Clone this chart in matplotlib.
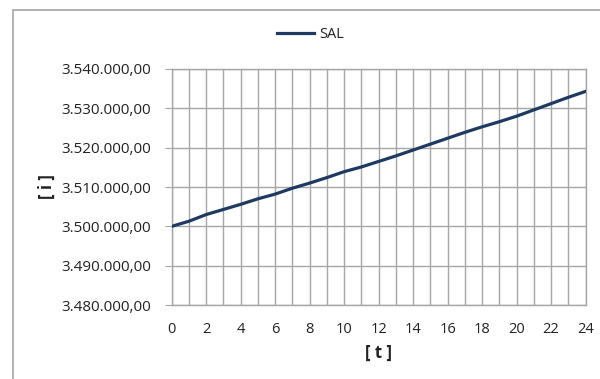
import matplotlib
matplotlib.use("Agg")
import matplotlib.pyplot as plt
from matplotlib.ticker import MultipleLocator, FuncFormatter
from matplotlib.patches import Rectangle

# hourly values
hours = list(range(25))
sal = [3500000, 3501300, 3503000, 3504300, 3505600, 3507000, 3508200,
       3509700, 3511000, 3512400, 3513900, 3515100, 3516500, 3517900,
       3519400, 3520900, 3522400, 3523900, 3525300, 3526600, 3528000,
       3529600, 3531200, 3532800, 3534300]

plt.rcParams['font.family'] = ['Open Sans', 'DejaVu Sans']
grid_col = '#a6a6a6'
text_col = '#222222'

fig = plt.figure(figsize=(6, 3.79), dpi=100)
ax = fig.add_axes([0.286, 0.195, 0.69, 0.623])

# outer chart frame (only left and top visible)
fig.patches.append(Rectangle((13 / 600, -0.1), 1.2, 1 - 10 / 379 + 0.1,
                             transform=fig.transFigure, fill=False,
                             edgecolor=grid_col, linewidth=1.2))

ax.plot(hours, sal, color='#1f3a60', linewidth=2.3, label='SAL', zorder=3)

ax.set_xlim(0, 24)
ax.set_ylim(3480000, 3540000)
ax.xaxis.set_major_locator(MultipleLocator(2))
ax.xaxis.set_minor_locator(MultipleLocator(1))
ax.yaxis.set_major_locator(MultipleLocator(10000))


def euro_fmt(v, pos):
    s = f"{v:,.2f}"
    return s.replace(',', 'X').replace('.', ',').replace('X', '.')


ax.yaxis.set_major_formatter(FuncFormatter(euro_fmt))

ax.grid(which='both', axis='x', color=grid_col, linewidth=1)
ax.grid(which='major', axis='y', color=grid_col, linewidth=1)
ax.set_axisbelow(True)
for sp in ax.spines.values():
    sp.set_color(grid_col)
    sp.set_linewidth(1)

ax.tick_params(axis='y', length=5, color=grid_col, labelsize=11,
               labelcolor=text_col, pad=9.5)
ax.tick_params(axis='x', which='both', length=0, labelsize=10.5,
               labelcolor=text_col, pad=12)

ax.set_xlabel('[ t ]', fontsize=12, fontweight='bold', color=text_col, labelpad=5)
ax.set_ylabel('[ i ]', fontsize=12, fontweight='bold', color=text_col, labelpad=4)

fig.legend(loc='center', bbox_to_anchor=(311 / 600, 1 - 35 / 379),
           frameon=False, fontsize=10.5, handlelength=2.5, handletextpad=0.4,
           labelcolor=text_col)

plt.savefig('out.png', dpi=100)
